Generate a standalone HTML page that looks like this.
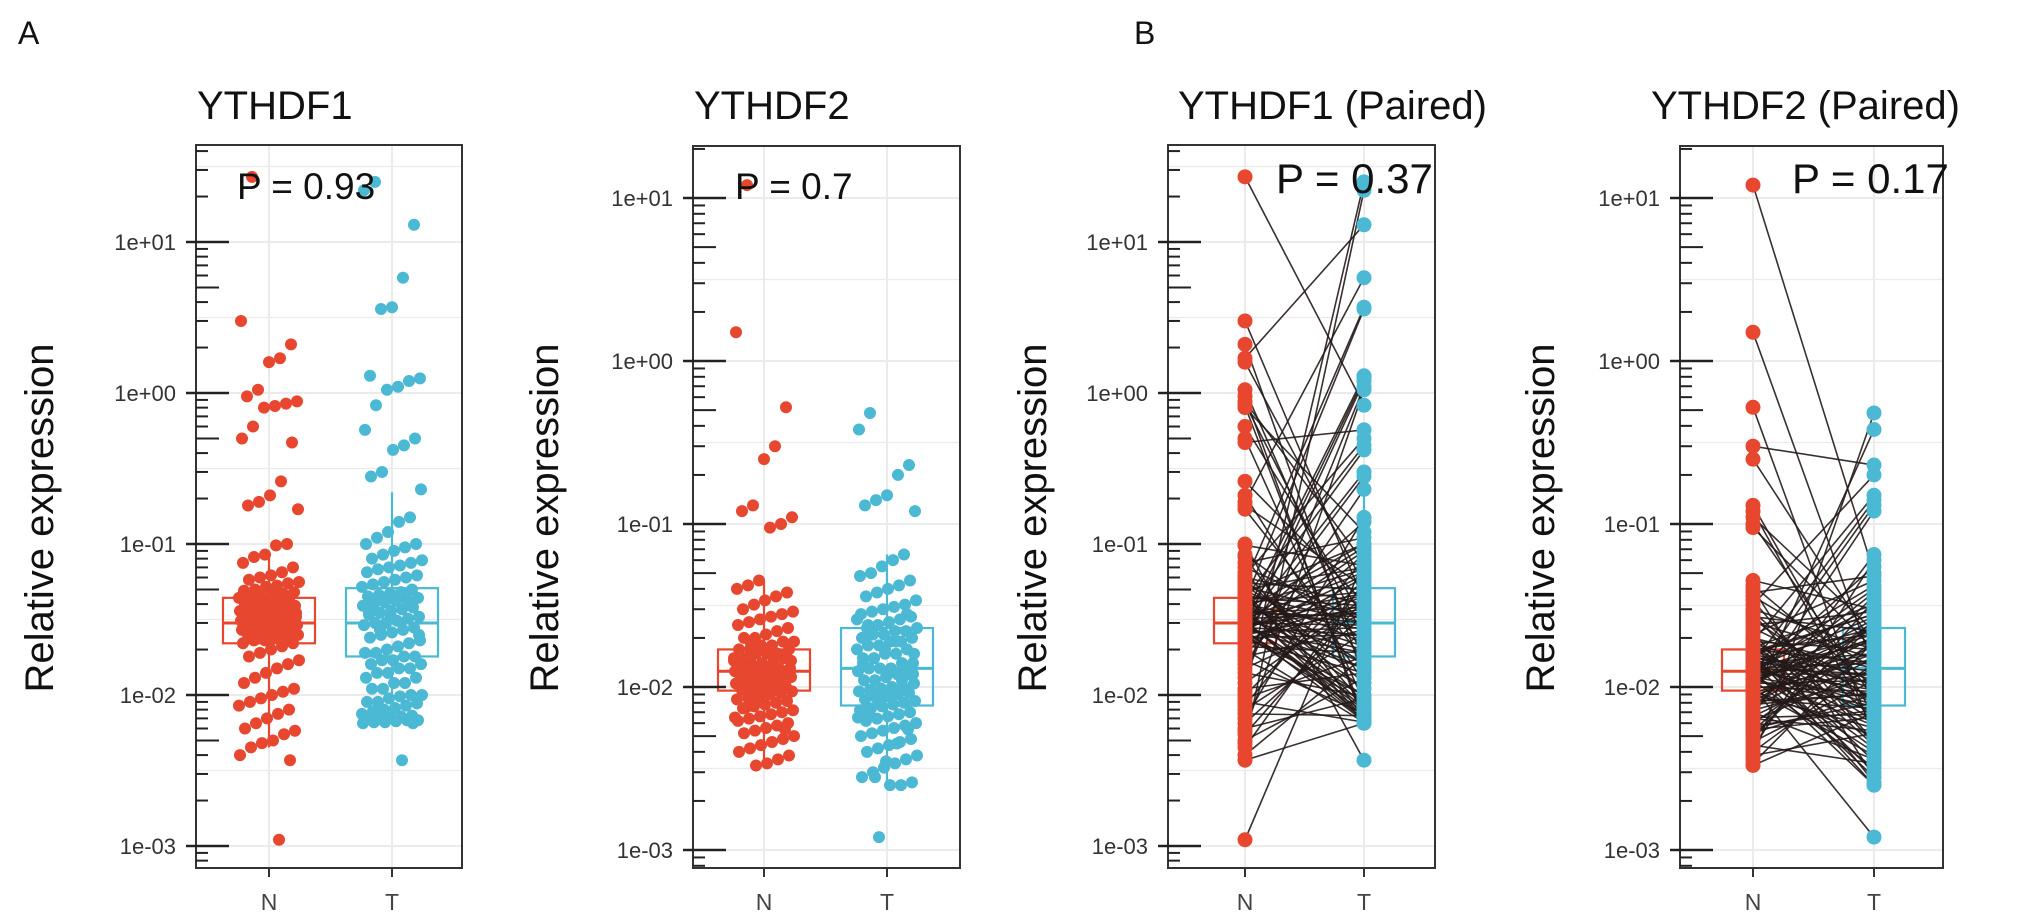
<!DOCTYPE html>
<html><head><meta charset="utf-8">
<style>
html,body{margin:0;padding:0;background:#fff;}
svg{display:block;font-family:"Liberation Sans",sans-serif;}
</style></head>
<body>
<svg id="fig" width="2031" height="924" viewBox="0 0 2031 924" xmlns="http://www.w3.org/2000/svg">
<text x="18" y="44" font-size="32" fill="#111">A</text>
<text x="1134" y="44" font-size="32" fill="#111">B</text>
</svg>
<script>
// ---- data (relative expression values) ----
const groups = ["N", "T"];
const ythdf1N = [27,3.0,2.1,1.7,1.6,1.05,0.95,0.88,0.85,0.82,0.8,0.6,0.5,0.47,0.26,0.21,0.19,0.18,0.17,0.1,0.098,0.085,0.082,0.075,0.07,
0.065,0.062,0.06,0.058,0.056,0.055,0.053,0.052,0.05,0.049,0.048,0.047,0.046,0.045,0.044,0.044,0.043,0.042,0.041,0.040,
0.040,0.039,0.038,0.038,0.037,0.036,0.036,0.035,0.035,0.034,0.034,0.033,0.033,0.032,0.032,0.031,0.031,0.031,0.030,0.030,
0.030,0.029,0.029,0.029,0.028,0.028,0.028,0.027,0.027,0.027,0.026,0.026,0.025,0.025,0.025,0.024,0.024,0.023,0.023,0.022,
0.022,0.021,0.020,0.019,0.018,0.017,0.016,0.015,0.014,0.013,0.012,0.011,0.0105,0.010,0.0095,0.009,0.0085,0.008,0.0075,0.007,
0.0065,0.006,0.0058,0.0055,0.005,0.0048,0.0045,0.004,0.0037,0.0011,0.024,0.031,0.028,0.035,0.026];
const ythdf1T = [25,22,13,5.8,3.7,3.6,1.3,1.25,1.2,1.1,1.05,0.83,0.57,0.5,0.45,0.42,0.3,0.28,0.23,0.15,0.14,0.12,0.11,0.1,0.1,
0.095,0.09,0.085,0.08,0.078,0.075,0.072,0.07,0.068,0.065,0.062,0.06,0.058,0.056,0.054,0.052,0.05,0.048,0.047,0.046,
0.045,0.044,0.043,0.042,0.041,0.040,0.039,0.038,0.037,0.036,0.035,0.034,0.033,0.032,0.031,0.030,0.030,0.029,0.028,0.027,
0.026,0.025,0.024,0.023,0.022,0.021,0.020,0.019,0.019,0.018,0.018,0.017,0.017,0.016,0.016,0.015,0.015,0.014,0.014,0.013,
0.013,0.012,0.012,0.011,0.011,0.010,0.010,0.0098,0.0095,0.009,0.009,0.0088,0.0085,0.0082,0.008,0.0078,0.0075,0.0073,0.0072,0.0071,
0.007,0.007,0.0068,0.0068,0.0067,0.0066,0.0066,0.0065,0.0065,0.0037,0.033,0.027,0.035,0.025,0.04];
const ythdf2N = [12,1.5,0.52,0.3,0.25,0.13,0.12,0.11,0.1,0.095,
0.045,0.042,0.04,0.038,0.036,0.034,0.032,0.03,0.029,0.028,0.027,0.026,0.025,0.024,0.023,0.022,0.021,0.020,0.020,0.019,
0.019,0.018,0.018,0.017,0.017,0.017,0.016,0.016,0.016,0.015,0.015,0.015,0.014,0.014,0.014,0.014,0.013,0.013,0.013,0.013,
0.0125,0.0125,0.012,0.012,0.012,0.012,0.0115,0.0115,0.011,0.011,0.011,0.0105,0.0105,0.010,0.010,0.010,0.0098,0.0096,0.0094,0.0092,
0.009,0.0088,0.0086,0.0084,0.0082,0.008,0.0078,0.0076,0.0074,0.0072,0.007,0.0068,0.0066,0.0064,0.0062,0.006,0.0058,0.0056,0.0054,0.0052,
0.005,0.0048,0.0046,0.0044,0.0042,0.004,0.0038,0.0036,0.0034,0.0033,0.0135,0.0145,0.0155,0.0165,0.0175,0.0185,0.011,0.012,0.013,0.0095,
0.0085,0.0075,0.0065,0.0055,0.0105,0.0115,0.0125,0.0135,0.0145,0.0155];
const ythdf2T = [0.48,0.38,0.23,0.2,0.15,0.14,0.13,0.12,0.065,0.06,
0.055,0.05,0.048,0.045,0.042,0.04,0.038,0.036,0.034,0.032,0.031,0.03,0.029,0.028,0.027,0.026,0.025,0.024,0.023,0.023,
0.022,0.022,0.021,0.021,0.02,0.02,0.019,0.019,0.018,0.018,0.017,0.017,0.016,0.016,0.015,0.015,0.014,0.014,0.013,0.013,
0.013,0.0125,0.012,0.012,0.0115,0.011,0.011,0.0105,0.010,0.010,0.0098,0.0096,0.0094,0.0092,0.009,0.0088,0.0086,0.0084,0.0082,0.008,
0.0078,0.0076,0.0074,0.0072,0.007,0.0068,0.0066,0.0064,0.0062,0.006,0.0058,0.0056,0.0054,0.0052,0.005,0.0048,0.0046,0.0044,0.0042,0.004,
0.0038,0.0036,0.0034,0.0032,0.003,0.0028,0.0026,0.0025,0.0025,0.0012,0.024,0.026,0.028,0.019,0.017,0.015,0.014,0.012,0.011,0.009,
0.008,0.007,0.0065,0.0055,0.0045,0.0035,0.0028,0.02,0.016,0.013];
// box stats [whiskerLow, q1, median, q3, whiskerHigh]
const box1N = [0.0045, 0.022, 0.030, 0.044, 0.09];
const box1T = [0.0068, 0.018, 0.030, 0.051, 0.22];
const box2N = [0.0033, 0.0095, 0.0125, 0.017, 0.045];
const box2T = [0.0025, 0.0077, 0.013, 0.023, 0.065];
const pValues = ["0.93", "0.7", "0.37", "0.17"];
const tickLabels = ["1e-03", "1e-02", "1e-01", "1e+00", "1e+01"];
const tickExps = [-3, -2, -1, 0, 1];

const RED = "#e8472f", BLUE = "#4bb8d4";
const svg = document.getElementById("fig");
const NS = "http://www.w3.org/2000/svg";
function mk(tag, attrs, parent) {
  const e = document.createElementNS(NS, tag);
  for (const k in attrs) e.setAttribute(k, attrs[k]);
  (parent || svg).appendChild(e);
  return e;
}

const panels = [
  {key:"ythdf1", title:"YTHDF1", left:196, right:462, top:145, bottom:868, y10:242, dec:151, xN:269, xT:392, paired:false, N:ythdf1N, T:ythdf1T, bN:box1N, bT:box1T, p:pValues[0], px:237, py:199, pfs:37, tx:197, ax:39},
  {key:"ythdf2", title:"YTHDF2", left:693, right:960, top:146, bottom:868, y10:198, dec:163, xN:764, xT:887, paired:false, N:ythdf2N, T:ythdf2T, bN:box2N, bT:box2T, p:pValues[1], px:735, py:199, pfs:37, tx:694, ax:544},
  {key:"ythdf1-paired", title:"YTHDF1 (Paired)", left:1168, right:1435, top:145, bottom:868, y10:242, dec:151, xN:1245, xT:1364, paired:true, N:ythdf1N, T:ythdf1T, bN:box1N, bT:box1T, p:pValues[2], px:1276, py:193, pfs:42, tx:1178, ax:1032},
  {key:"ythdf2-paired", title:"YTHDF2 (Paired)", left:1680, right:1943, top:146, bottom:868, y10:198, dec:163, xN:1753, xT:1874, paired:true, N:ythdf2N, T:ythdf2T, bN:box2N, bT:box2T, p:pValues[3], px:1792, py:193, pfs:42, tx:1651, ax:1540}
];

panels.forEach(P => {
  const g = mk("g", {});
  
  
  const y = v => P.y10 - (Math.log10(v) - 1) * P.dec;
  const inRange = yy => yy >= P.top - 0.5 && yy <= P.bottom + 0.5;

  const t = mk("text", {x:P.tx, y:119, "font-size":40, fill:"#111"}, g);
  t.textContent = P.title;
  
  
  const at = mk("text", {x:P.ax, y:518, "font-size":40, fill:"#111", "text-anchor":"middle", transform:`rotate(-90 ${P.ax} 518)`, dy:"14"}, g);
  at.textContent = "Relative expression";
  
  

  const grid = mk("g", {stroke:"#ebebeb"}, g);
  
  
  for (let e = -4; e <= 2; e++) {
    [Math.pow(10, e), Math.pow(10, e + 0.5)].forEach((v, k) => {
      const yy = y(v);
      if (inRange(yy)) mk("line", {x1:P.left, x2:P.right, y1:yy, y2:yy, "stroke-width": k ? 1.2 : 2}, grid);
    });
  }
  [P.xN, P.xT].forEach(x => mk("line", {x1:x, x2:x, y1:P.top, y2:P.bottom, "stroke-width":2}, grid));

  const drawBox = (b, cx, col, half, name) => {
    const bg = mk("g", {stroke:col, fill:"none", "stroke-width":2.2}, g);
    
    
    mk("line", {x1:cx, x2:cx, y1:y(b[0]), y2:y(b[1])}, bg);
    mk("line", {x1:cx, x2:cx, y1:y(b[3]), y2:y(b[4])}, bg);
    mk("rect", {x:cx - half, y:y(b[3]), width:half * 2, height:y(b[1]) - y(b[3])}, bg);
    mk("line", {x1:cx - half, x2:cx + half, y1:y(b[2]), y2:y(b[2]), "stroke-width":3}, bg);
  };
  const half = P.paired ? 31 : 46;
  drawBox(P.bN, P.xN, RED, half, 'box-n');
  drawBox(P.bT, P.xT, BLUE, half, 'box-t');

  const n = Math.min(P.N.length, P.T.length);
  if (P.paired) {
    const lg = mk("g", {stroke:"#231a18", "stroke-width":1.6, "stroke-opacity":0.9}, g);
    
    
    for (let i = 0; i < n; i++) {
      const j = (i * 37 + 11) % n;
      const l = mk("line", {x1:P.xN, y1:y(P.N[i]), x2:P.xT, y2:y(P.T[j])}, lg);
      
      
    }
  }
  const drawPts = (arr, cx, col, name) => {
    const pg = mk("g", {fill:col}, g);
    
    
    arr.forEach((v, i) => {
      const jit = P.paired ? 0 : (((i * 7919 + 13) % 61) / 60 - 0.5) * 60;
      const c = mk("circle", {cx:cx + jit, cy:y(v), r:P.paired ? 7.5 : 6}, pg);
      
      
    });
  };
  drawPts(P.N, P.xN, RED, 'points-n');
  drawPts(P.T, P.xT, BLUE, 'points-t');

  const br = mk("rect", {x:P.left, y:P.top, width:P.right - P.left, height:P.bottom - P.top, fill:"none", stroke:"#333", "stroke-width":2}, g);
  
  

  const tg = mk("g", {stroke:"#222", "stroke-width":2.5}, g);
  
  
  for (let e = -4; e <= 2; e++) {
    for (let m = 2; m <= 9; m++) {
      const yy = y(m * Math.pow(10, e));
      if (inRange(yy)) mk("line", {x1:P.left, x2:P.left + (m === 5 ? 23 : 12), y1:yy, y2:yy, "stroke-width":2}, tg);
    }
  }
  tickExps.forEach((e, i) => {
    const yy = y(Math.pow(10, e));
    mk("line", {x1:P.left - 10, x2:P.left + 33, y1:yy, y2:yy}, tg);
    const tl = mk("text", {x:P.left - 20, y:yy + 8, "font-size":22, fill:"#333", "text-anchor":"end"}, g);
    tl.textContent = tickLabels[i];
    
    
  });
  groups.forEach((gname, i) => {
    const x = i ? P.xT : P.xN;
    mk("line", {x1:x, x2:x, y1:P.bottom, y2:P.bottom + 9, stroke:"#333", "stroke-width":2}, g);
    const xl = mk("text", {x:x, y:910, "font-size":23, fill:"#444", "text-anchor":"middle"}, g);
    xl.textContent = gname;
    
    
  });
  const pt = mk("text", {x:P.px, y:P.py, "font-size":P.pfs, fill:"#111"}, g);
  pt.textContent = "P = " + P.p;
  
  
});
</script>
</body></html>
